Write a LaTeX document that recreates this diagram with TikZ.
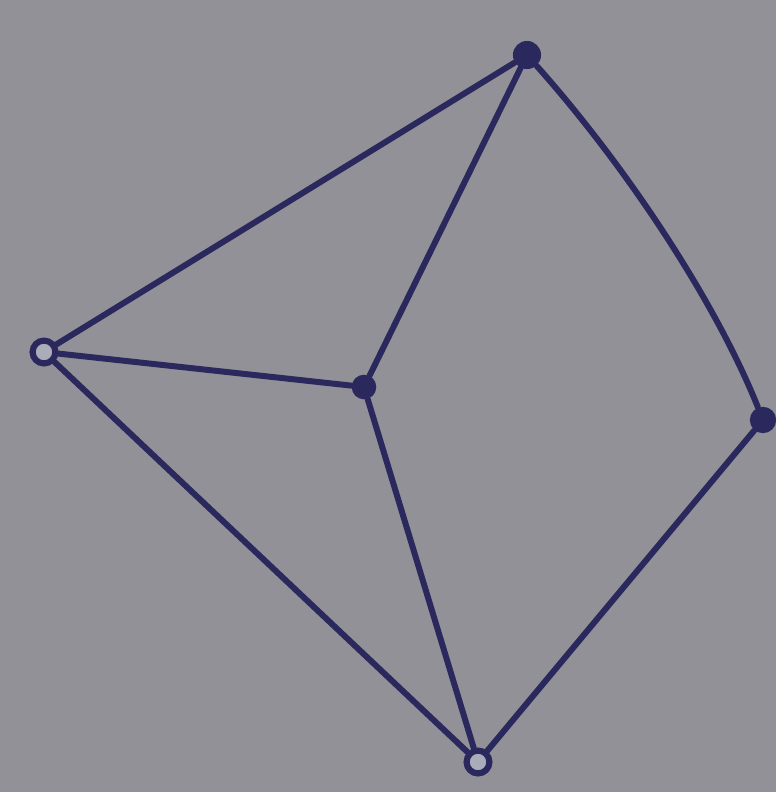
\documentclass[tikz,border=0pt]{standalone}
\definecolor{paper}{RGB}{146,145,151}
\definecolor{ink}{RGB}{42,40,92}
\definecolor{hole}{RGB}{170,172,185}
\begin{document}
\begin{tikzpicture}[x=0.02cm,y=-0.02cm,
  edge/.style={draw=ink,line width=3.4pt,line cap=round,line join=round},
  dot/.style={circle,fill=ink,inner sep=0pt,minimum size=16pt},
  ring/.style={circle,draw=ink,line width=3.5pt,fill=hole,inner sep=0pt,minimum size=13pt}]
\fill[paper] (0,0) rectangle (776,792);
\useasboundingbox (0,0) rectangle (776,792);
\node[dot] (t) at (527,55) {};
\node[ring] (l) at (44,352) {};
\node[dot,minimum size=14pt] (c) at (364,387) {};
\node[dot,minimum size=15pt] (r) at (763,420) {};
\node[ring] (b) at (478,762) {};
\draw[edge] (t) -- (l);
\draw[edge] (t) -- (c);
\draw[edge] (t) .. controls (625,165) and (715,300) .. (r);
\draw[edge] (l) -- (c);
\draw[edge] (l) -- (b);
\draw[edge] (c) -- (b);
\draw[edge] (r) -- (b);
\end{tikzpicture}
\end{document}
